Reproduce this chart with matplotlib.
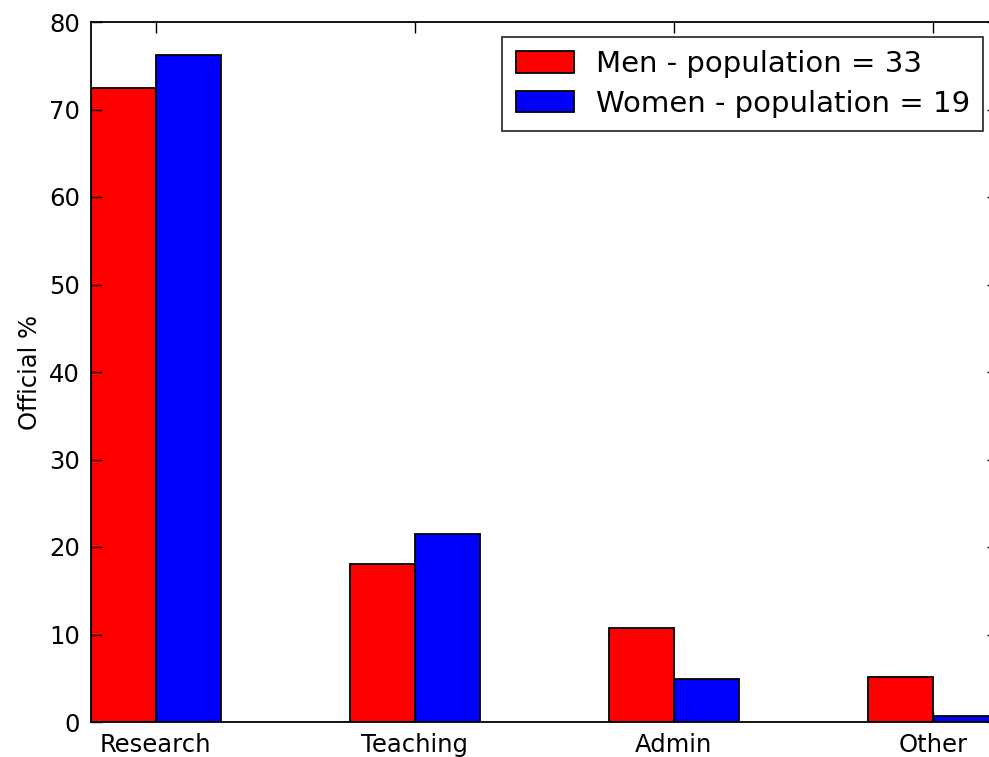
import numpy as np
import matplotlib
matplotlib.use("Agg")
import matplotlib.pyplot as plt

categories = ["Research", "Teaching", "Admin", "Other"]
men_pct = [72.5, 18.1, 10.8, 5.1]
women_pct = [76.2, 21.5, 4.9, 0.7]
men_label = "Men - population = 33"
women_label = "Women - population = 19"
y_ticks = [0, 10, 20, 30, 40, 50, 60, 70, 80]

plt.rcParams["font.family"] = ["DejaVu Sans"]

fig = plt.figure(figsize=(9.89, 7.57), dpi=100, facecolor="white")
ax = fig.add_axes([91 / 989, 35 / 757, 906.5 / 989, 700 / 757])

x = np.arange(len(categories))
width = 0.25
ax.bar(x, men_pct, width, align="edge", color="#ff0000", edgecolor="black",
       linewidth=1.3, label=men_label)
ax.bar(x + width, women_pct, width, align="edge", color="#0000ff", edgecolor="black",
       linewidth=1.3, label=women_label)

ax.set_xlim(0, len(categories) - 0.5)
ax.set_ylim(0, 80)
ax.set_xticks(x + width)
ax.set_xticklabels(categories)
ax.set_yticks(y_ticks)
ax.tick_params(direction="in", length=8, width=1, top=True, right=True,
               labelsize=17.5, colors="black")
ax.tick_params(axis="y", pad=8)
ax.tick_params(axis="x", pad=8)
for s in ax.spines.values():
    s.set_linewidth(1.3)
ax.set_ylabel("Official %", fontsize=17.5, labelpad=5)

leg = ax.legend(loc="upper right", bbox_to_anchor=((983 - 91) / 906.5, 1 - 15 / 700),
                borderaxespad=0, fontsize=21, fancybox=False, frameon=True,
                handlelength=2.0, handleheight=0.75, handletextpad=0.75,
                borderpad=0.45, labelspacing=0.4)
leg.get_frame().set_edgecolor("black")
leg.get_frame().set_linewidth(1.3)

fig.savefig("out.png", dpi=100, facecolor="white")
